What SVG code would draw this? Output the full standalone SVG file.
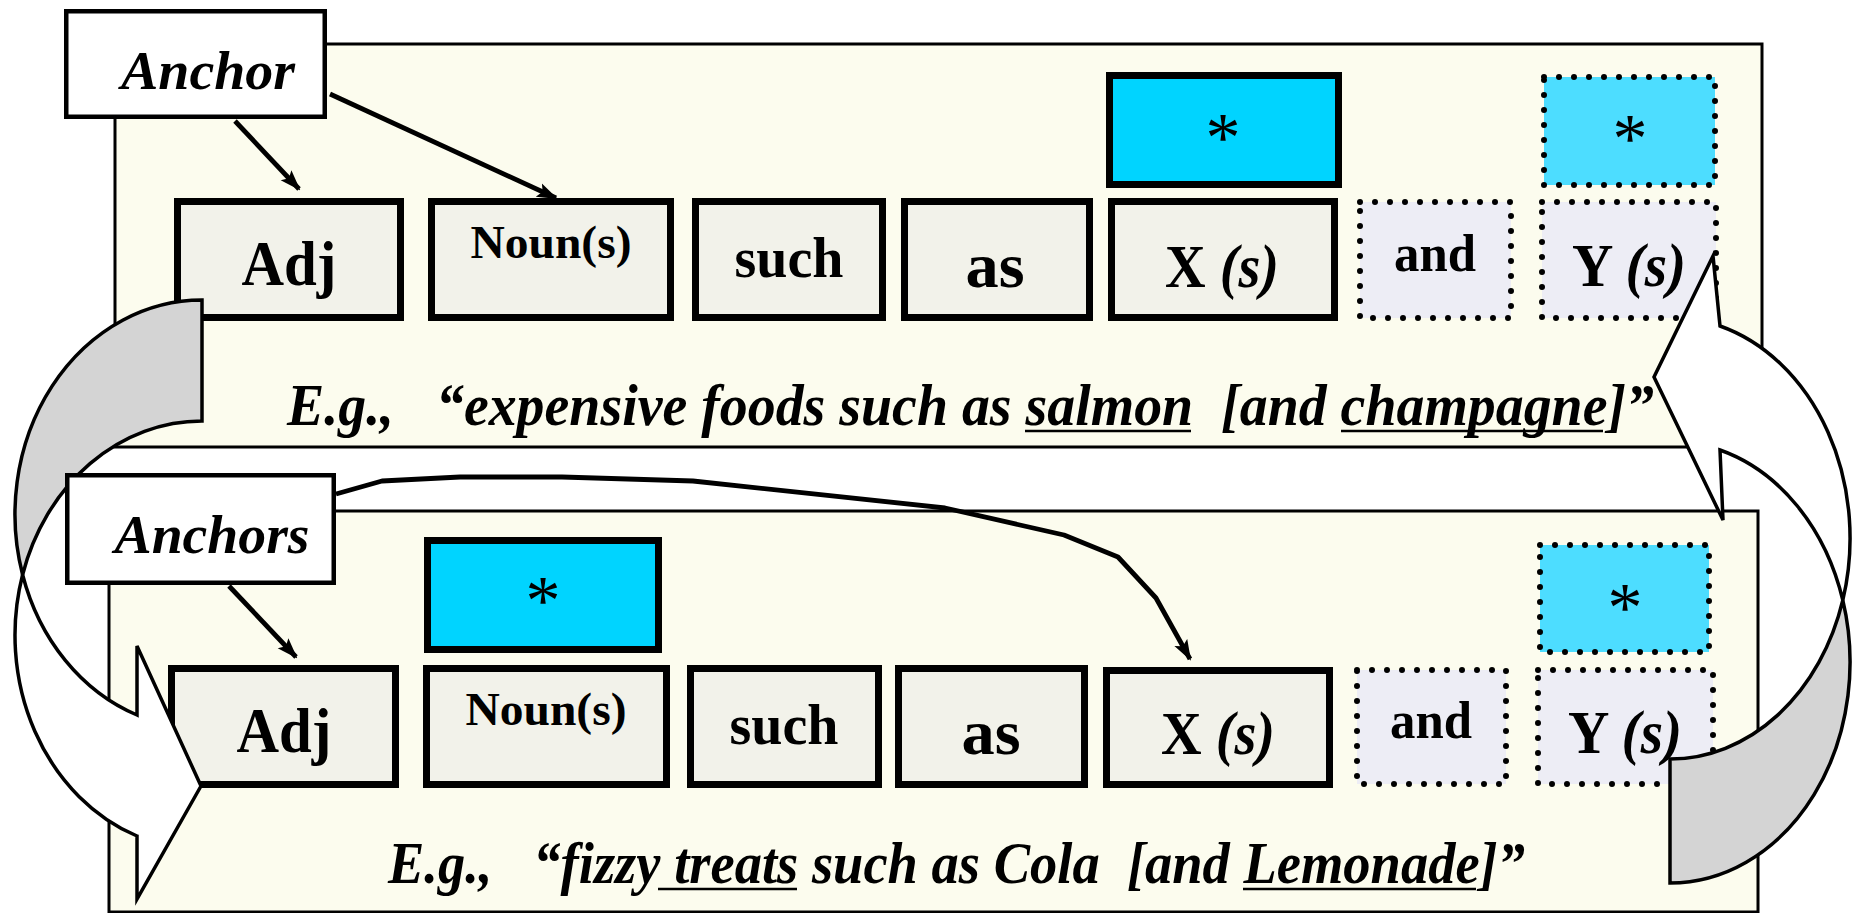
<svg xmlns="http://www.w3.org/2000/svg" width="1852" height="913" viewBox="0 0 1852 913">
<defs>
<style>
.panel{fill:#FCFCEE;stroke:#000;stroke-width:3}
.box{fill:#F2F2EA;stroke:#000;stroke-width:7}
.dbox{fill:#EDEDF5;stroke:#000;stroke-width:6;stroke-dasharray:0 15;stroke-linecap:round}
.star{fill:#00D4FF;stroke:#000;stroke-width:7}
.dstar{fill:#4DDDFF;stroke:#000;stroke-width:6;stroke-dasharray:0 15;stroke-linecap:round}
.anc{fill:#fff;stroke:#000;stroke-width:4.5}
.t{font-family:"Liberation Serif",serif;font-weight:bold;fill:#000;text-anchor:middle}
.it{font-style:italic}
.ast{font-family:"Liberation Serif",serif;fill:#000;text-anchor:middle;font-size:70px}
.eg{font-family:"Liberation Serif",serif;font-weight:bold;font-style:italic;font-size:60px;fill:#000}
.ul{stroke:#000;stroke-width:2.5}
.conn{fill:none;stroke:#000;stroke-width:4.8;stroke-linejoin:round;marker-end:url(#ah)}
.grey{fill:#D4D4D4;stroke:#000;stroke-width:3.5;stroke-linejoin:miter}
.white{fill:#fff;stroke:#000;stroke-width:3.5;stroke-linejoin:miter}
</style>
<marker id="ah" viewBox="0 0 20 16" refX="18" refY="8" markerWidth="21" markerHeight="17" markerUnits="userSpaceOnUse" orient="auto">
<path d="M0,1 L20,8 L0,15 L4,8 Z" fill="#000"/>
</marker>
</defs>

<g id="panel-top"><rect class="panel" x="115" y="44" width="1647" height="403"/></g>
<g id="panel-bottom"><rect class="panel" x="109" y="511" width="1649" height="401"/></g>

<!-- top row -->
<g id="t-adj"><rect class="box" x="177.5" y="201.5" width="223" height="116"/><text class="t" x="289" y="285" font-size="64" textLength="95" lengthAdjust="spacingAndGlyphs">Adj</text></g>
<g id="t-noun"><rect class="box" x="431.5" y="201.5" width="239" height="116"/><text class="t" x="551" y="258" font-size="47" textLength="161" lengthAdjust="spacingAndGlyphs">Noun(s)</text></g>
<g id="t-such"><rect class="box" x="695.5" y="201.5" width="187" height="116"/><text class="t" x="789" y="277" font-size="58" textLength="109" lengthAdjust="spacingAndGlyphs">such</text></g>
<g id="t-as"><rect class="box" x="904.5" y="201.5" width="185" height="116"/><text class="t" x="995" y="287" font-size="64" textLength="59" lengthAdjust="spacingAndGlyphs">as</text></g>
<g id="t-x"><rect class="box" x="1111.5" y="201.5" width="223" height="116"/><text class="t" x="1222" y="287" font-size="62" textLength="114" lengthAdjust="spacingAndGlyphs">X <tspan class="it">(s)</tspan></text></g>
<g id="t-and"><rect class="dbox" x="1360" y="202" width="151" height="116"/><text class="t" x="1435" y="271" font-size="52" textLength="82" lengthAdjust="spacingAndGlyphs">and</text></g>
<g id="t-y"><rect class="dbox" x="1542" y="202" width="174" height="116"/><text class="t" x="1629" y="286" font-size="62" textLength="114" lengthAdjust="spacingAndGlyphs">Y <tspan class="it">(s)</tspan></text></g>
<g id="t-star"><rect class="star" x="1109.5" y="75.5" width="229" height="109"/><text class="ast" x="1223" y="161">*</text></g>
<g id="t-dstar"><rect class="dstar" x="1544" y="77" width="171" height="108"/><text class="ast" x="1630" y="162">*</text></g>
<g id="eg-top">
<text class="eg" x="287" y="425" textLength="1367" lengthAdjust="spacingAndGlyphs" xml:space="preserve">E.g.,   “expensive foods such as salmon  [and champagne]”</text>
<line class="ul" x1="1025" y1="431" x2="1191" y2="431"/>
<line class="ul" x1="1341" y1="431" x2="1603" y2="431"/>
</g>

<!-- bottom row -->
<g id="b-adj"><rect class="box" x="171.5" y="668.5" width="224" height="116"/><text class="t" x="284" y="752" font-size="64" textLength="95" lengthAdjust="spacingAndGlyphs">Adj</text></g>
<g id="b-noun"><rect class="box" x="426.5" y="668.5" width="240" height="116"/><text class="t" x="546" y="725" font-size="47" textLength="161" lengthAdjust="spacingAndGlyphs">Noun(s)</text></g>
<g id="b-such"><rect class="box" x="690.5" y="668.5" width="188" height="116"/><text class="t" x="784" y="744" font-size="58" textLength="109" lengthAdjust="spacingAndGlyphs">such</text></g>
<g id="b-as"><rect class="box" x="898.5" y="668.5" width="186" height="116"/><text class="t" x="991" y="754" font-size="64" textLength="59" lengthAdjust="spacingAndGlyphs">as</text></g>
<g id="b-x"><rect class="box" x="1106.5" y="670.5" width="223" height="114"/><text class="t" x="1218" y="754" font-size="62" textLength="114" lengthAdjust="spacingAndGlyphs">X <tspan class="it">(s)</tspan></text></g>
<g id="b-and"><rect class="dbox" x="1357" y="670" width="149" height="114"/><text class="t" x="1431" y="738" font-size="52" textLength="82" lengthAdjust="spacingAndGlyphs">and</text></g>
<g id="b-y"><rect class="dbox" x="1538" y="670" width="175" height="114"/><text class="t" x="1625" y="753" font-size="62" textLength="114" lengthAdjust="spacingAndGlyphs">Y <tspan class="it">(s)</tspan></text></g>
<g id="b-star"><rect class="star" x="427.5" y="540.5" width="231" height="109"/><text class="ast" x="543" y="624">*</text></g>
<g id="b-dstar"><rect class="dstar" x="1540" y="545" width="169" height="107"/><text class="ast" x="1625" y="631">*</text></g>
<g id="eg-bottom">
<text class="eg" x="388" y="883" textLength="1137" lengthAdjust="spacingAndGlyphs" xml:space="preserve">E.g.,   “fizzy treats such as Cola  [and Lemonade]”</text>
<line class="ul" x1="658" y1="889" x2="797" y2="889"/>
<line class="ul" x1="1243" y1="889" x2="1476" y2="889"/>
</g>

<!-- curved arrows -->
<g id="curve-left">
<path class="grey" d="M202,300 A187,214.2 0 0 0 22.6,574.7 A187,214.2 0 0 1 202,421 Z"/>
<path class="white" d="M22.6,574.7 A187,214.2 0 0 0 137,836 L137,899 L201,786 L137,646 L137,715 A187,214.2 0 0 1 22.6,574.7 Z"/>
</g>
<g id="curve-right">
<path class="grey" d="M1670,883 A180,220.8 0 0 0 1842.8,600.2 A180,220.8 0 0 1 1670,759 Z"/>
<path class="white" d="M1842.8,600.2 A180,220.8 0 0 0 1720,326 L1713,256 L1654,377 L1723,520 L1720,450 A180,220.8 0 0 1 1842.8,600.2 Z"/>
</g>

<g id="anchor-top"><rect class="anc" x="66.25" y="11.25" width="258.5" height="105.5"/><text class="t it" x="208" y="89" font-size="55" textLength="174" lengthAdjust="spacingAndGlyphs">Anchor</text></g>
<g id="anchor-bottom"><rect class="anc" x="67.25" y="475.25" width="266.5" height="107.5"/><text class="t it" x="212" y="553" font-size="54" textLength="195" lengthAdjust="spacingAndGlyphs">Anchors</text></g>

<g id="connectors">
<path class="conn" d="M235,121 L299,189"/>
<path class="conn" d="M330,94 L556,198"/>
<path class="conn" d="M229,586 L296,657"/>
<path class="conn" d="M336,494 L382,481 L460,477 L562,477 L693,481 L945,508 L1064,535 L1118,557 L1156,598 L1190,659"/>
</g>
</svg>
